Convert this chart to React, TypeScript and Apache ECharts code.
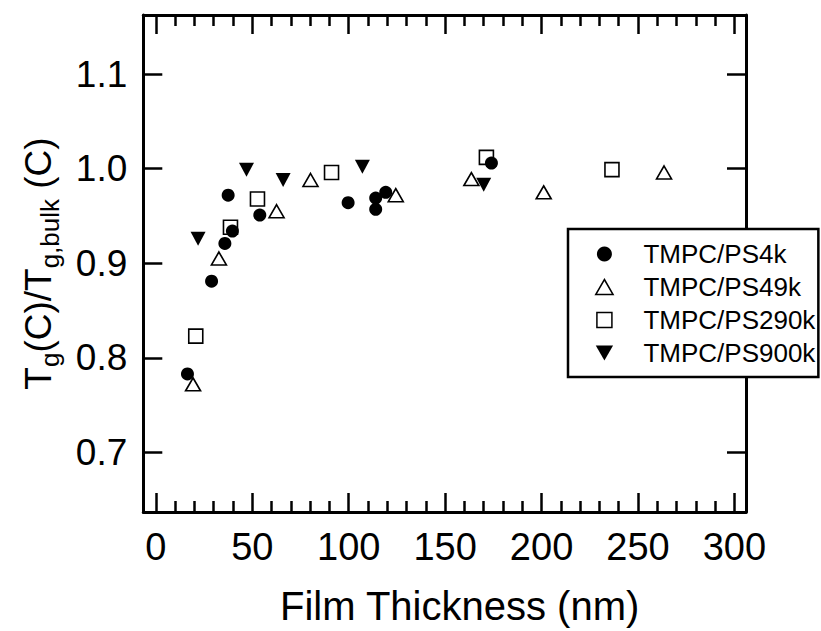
import React, { useEffect, useRef } from 'react';
import * as echarts from 'echarts';

// Glass transition ratio vs. film thickness, one series per PS molecular weight
const seriesNames = ['TMPC/PS4k', 'TMPC/PS49k', 'TMPC/PS290k', 'TMPC/PS900k'];

const ps4kX = [16.4, 28.9, 35.8, 37.5, 39.7, 53.9, 99.7, 114.0, 114.0, 119.2, 174.0];
const ps4kY = [0.783, 0.881, 0.921, 0.972, 0.934, 0.951, 0.964, 0.969, 0.957, 0.975, 1.006];

const ps49kX = [19.3, 32.7, 62.6, 80.2, 124.4, 163.6, 201.1, 263.5];
const ps49kY = [0.772, 0.905, 0.955, 0.988, 0.972, 0.989, 0.975, 0.996];

const ps290kX = [20.7, 38.7, 52.7, 91.1, 171.4, 236.5];
const ps290kY = [0.823, 0.938, 0.968, 0.996, 1.012, 0.999];

const ps900kX = [21.9, 47.0, 66.0, 107.1, 170.0];
const ps900kY = [0.926, 0.999, 0.988, 1.002, 0.983];

const xMajorTicks = [0, 50, 100, 150, 200, 250, 300];
const xMinorTicks = [
  10, 20, 30, 40, 60, 70, 80, 90, 110, 120, 130, 140, 160, 170, 180, 190,
  210, 220, 230, 240, 260, 270, 280, 290,
];
const yTicks = [0.7, 0.8, 0.9, 1.0, 1.1];

const X_MIN = -6.5;
const X_MAX = 306;
const Y_MIN = 0.637;
const Y_MAX = 1.1625;

const FONT = '"Liberation Sans", Arial, Helvetica, sans-serif';

const SQUARE = 'path://M0,0L10,0L10,10L0,10Z';
const TRI_UP = 'path://M5,0L10,8.66L0,8.66Z';
const TRI_DOWN = 'path://M0,0L10,0L5,8.66Z';

const pairs = (xs: number[], ys: number[]) => xs.map((x, i) => [x, ys[i]]);

export default function App() {
  const ref = useRef<HTMLDivElement>(null);

  useEffect(() => {
    if (!ref.current) return;
    const chart = echarts.init(ref.current, undefined, { renderer: 'svg' });

    const frame = { show: true, onZero: false, lineStyle: { color: '#000', width: 3 } };
    const majorTick = (vals: number[]) => ({
      show: true,
      inside: true,
      length: 19,
      customValues: vals,
      lineStyle: { color: '#000', width: 2.5 },
    });
    const minorTick = (vals: number[]) => ({
      show: true,
      inside: true,
      length: 11,
      customValues: vals,
      lineStyle: { color: '#000', width: 2.5 },
    });
    const base = { type: 'value', splitLine: { show: false }, min: X_MIN, max: X_MAX };

    chart.setOption({
      animation: false,
      backgroundColor: '#fff',
      grid: { left: 143.3, top: 15, width: 602.7, height: 497.7, containLabel: false },
      xAxis: [
        {
          ...base,
          position: 'bottom',
          axisLine: frame,
          axisTick: majorTick(xMajorTicks),
          axisLabel: {
            customValues: xMajorTicks,
            fontSize: 38,
            color: '#000',
            fontFamily: FONT,
            margin: 16,
          },
          name: 'Film Thickness (nm)',
          nameLocation: 'middle',
          nameGap: 74,
          nameTextStyle: {
            fontSize: 40,
            color: '#000',
            fontFamily: FONT,
            padding: [0, 0, 0, 30],
          },
        },
        {
          ...base,
          position: 'bottom',
          axisLine: { show: false },
          axisTick: minorTick(xMinorTicks),
          axisLabel: { show: false },
        },
        {
          ...base,
          position: 'top',
          axisLine: frame,
          axisTick: majorTick(xMajorTicks),
          axisLabel: { show: false },
        },
        {
          ...base,
          position: 'top',
          axisLine: { show: false },
          axisTick: minorTick(xMinorTicks),
          axisLabel: { show: false },
        },
      ],
      yAxis: [
        {
          type: 'value',
          position: 'left',
          min: Y_MIN,
          max: Y_MAX,
          splitLine: { show: false },
          axisLine: frame,
          axisTick: majorTick(yTicks),
          axisLabel: {
            customValues: yTicks,
            formatter: (v: number) => v.toFixed(1),
            fontSize: 37,
            color: '#000',
            fontFamily: FONT,
            margin: 16,
          },
          name: '{m|T}{s|g}{m|(C)/T}{s|g,bulk}{m| (C)}',
          nameLocation: 'middle',
          nameRotate: 90,
          nameGap: 80,
          nameTextStyle: {
            color: '#000',
            fontFamily: FONT,
            rich: {
              m: { fontSize: 37, fontFamily: FONT, color: '#000', lineHeight: 50, verticalAlign: 'middle' },
              s: { fontSize: 26, fontFamily: FONT, color: '#000', lineHeight: 50, verticalAlign: 'bottom' },
            },
          },
        },
        {
          type: 'value',
          position: 'right',
          min: Y_MIN,
          max: Y_MAX,
          splitLine: { show: false },
          axisLine: frame,
          axisTick: majorTick(yTicks),
          axisLabel: { show: false },
        },
      ],
      legend: {
        orient: 'vertical',
        left: 568,
        top: 229,
        padding: [12, 3, 11, 27],
        itemWidth: 68,
        itemHeight: 15,
        itemGap: 7,
        selectedMode: false,
        borderColor: '#000',
        borderWidth: 2.5,
        backgroundColor: '#fff',
        textStyle: { fontSize: 26, color: '#000', fontFamily: FONT, lineHeight: 26 },
        data: [
          { name: seriesNames[0] },
          { name: seriesNames[1], itemStyle: { borderWidth: 1.5 } },
          { name: seriesNames[2], itemStyle: { borderWidth: 1.5 } },
          { name: seriesNames[3] },
        ],
      },
      series: [
        {
          name: seriesNames[0],
          type: 'scatter',
          z: 5,
          symbol: 'circle',
          symbolSize: 13,
          itemStyle: { color: '#000', opacity: 1 },
          data: pairs(ps4kX, ps4kY),
        },
        {
          name: seriesNames[1],
          type: 'scatter',
          z: 2,
          symbol: TRI_UP,
          symbolSize: [15, 13],
          itemStyle: { color: '#fff', borderColor: '#000', borderWidth: 1.6, opacity: 1 },
          data: pairs(ps49kX, ps49kY),
        },
        {
          name: seriesNames[2],
          type: 'scatter',
          z: 3,
          symbol: SQUARE,
          symbolSize: 14,
          itemStyle: { color: '#fff', borderColor: '#000', borderWidth: 1.6, opacity: 1 },
          data: pairs(ps290kX, ps290kY),
        },
        {
          name: seriesNames[3],
          type: 'scatter',
          z: 4,
          symbol: TRI_DOWN,
          symbolSize: [15, 14],
          itemStyle: { color: '#000', opacity: 1 },
          data: pairs(ps900kX, ps900kY),
        },
      ],
    });

    return () => chart.dispose();
  }, []);

  return (
    <div
      ref={ref}
      style={{ position: 'absolute', left: 0, top: 0, width: 821, height: 631, background: '#fff' }}
    />
  );
}
